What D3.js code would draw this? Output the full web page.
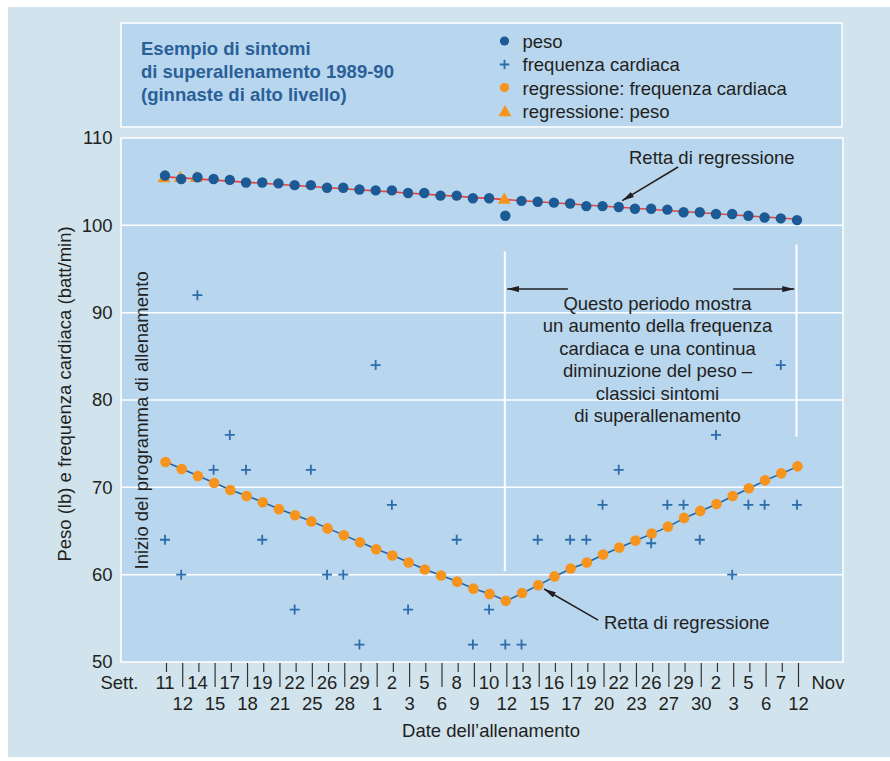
<!DOCTYPE html>
<html lang="it">
    <head>
        <meta charset="utf-8">
        <title>Sintomi di superallenamento 1989-90</title>
        <script src="https://d3js.org/d3.v7.min.js"></script>
        <style type="text/css">
            body { margin: 0; background: #ffffff; }
            text { font-family: "Liberation Sans", Arial, sans-serif; font-size: 18.5px; fill: #231f20; }
            .grid { stroke: #ffffff; stroke-width: 1.5px; }
            .axis line { stroke: #333333; stroke-width: 1.2px; }
        </style>
    </head>
    <body>
        <script type="text/javascript">

            //Declaring constants
            const w = 890;
            const h = 761;
            const plot = {left: 121, top: 138, right: 843, bottom: 662};

            //Data
            const dates = ["11","12","14","15","17","18","19","21","22","25",
                           "26","28","29","1","2","3","5","6","8","9",
                           "10","12","13","15","16","17","19","20","22","23",
                           "26","27","29","30","2","3","5","6","7","12"];

            //peso (lb)
            const peso = [105.7, 105.3, 105.5, 105.3, 105.2, 104.9, 104.9, 104.8, 104.6, 104.6,
                          104.3, 104.3, 104.1, 104.0, 104.0, 103.7, 103.7, 103.4, 103.4, 103.1,
                          103.1, 101.1, 102.8, 102.7, 102.6, 102.5, 102.2, 102.2, 102.1, 101.9,
                          101.9, 101.8, 101.5, 101.5, 101.3, 101.3, 101.1, 100.9, 100.8, 100.6];

            //frequenza cardiaca (batt/min)
            const freq = [64, 60, 92, 72, 76, 72, 64, null, 56, 72,
                          60, 60, 52, 84, 68, 56, null, null, 64, 52,
                          56, 52, 52, 64, null, 64, 64, 68, 72, null,
                          63.6, 68, 68, 64, 76, 60, 68, 68, 84, 68];

            //regressione: frequenza cardiaca
            const regFreq = [72.9, 72.1, 71.3, 70.5, 69.7, 69.0, 68.3, 67.5, 66.8, 66.1,
                             65.3, 64.5, 63.7, 62.9, 62.2, 61.4, 60.6, 59.9, 59.2, 58.4,
                             57.8, 57.0, 57.9, 58.8, 59.8, 60.7, 61.4, 62.3, 63.1, 63.9,
                             64.7, 65.5, 66.5, 67.3, 68.1, 69.0, 69.9, 70.8, 71.6, 72.4];

            //regressione: peso (visible triangles + line ends)
            const regPesoIdx = [0, 1, 2, 21];
            const regPesoVal = [105.35, 105.4, 105.4, 102.9];
            const regPesoLine = [[0, 105.55], [39, 100.7]];

            const yTicks = [50, 60, 70, 80, 90, 100, 110];
            const gridValues = [60, 70, 80, 90, 100];

            //colours
            const darkBlue = "#1b5a94";
            const orange = "#f7941d";
            const plusBlue = "#2c6dab";

            //scales
            const xScale = d3.scaleLinear()
                             .domain([0, 39])
                             .range([166, 798]);

            const yScale = d3.scaleLinear()
                             .domain([50, 110])
                             .range([plot.bottom, plot.top]);

            //SVG
            const svg = d3.select("body")
                    .append("svg")
                    .attr("width", w)
                    .attr("height", h);

            svg.append("defs").append("marker")
                .attr("id", "head")
                .attr("viewBox", "0 0 12 6")
                .attr("markerUnits", "userSpaceOnUse")
                .attr("markerWidth", 12)
                .attr("markerHeight", 6)
                .attr("refX", 12)
                .attr("refY", 3)
                .attr("orient", "auto")
                .append("path")
                .attr("d", "M0,0L12,3L0,6Z")
                .attr("fill", "#231f20");

            //outer panel
            svg.append("rect")
                .attr("x", 8).attr("y", 7)
                .attr("width", w - 8).attr("height", 750)
                .attr("fill", "#d1e3ed");

            //legend box
            svg.append("rect")
                .attr("x", 121).attr("y", 23)
                .attr("width", 721).attr("height", 104)
                .attr("fill", "#b8d6ee")
                .attr("stroke", "#ffffff")
                .attr("stroke-width", 1.5);

            const titleLines = ["Esempio di sintomi", "di superallenamento 1989-90", "(ginnaste di alto livello)"];
            svg.append("g").selectAll("text")
                .data(titleLines)
                .join("text")
                .attr("x", 141)
                .attr("y", (d, i) => 55 + i * 23.2)
                .style("font-weight", "bold")
                .style("fill", "#2a5f98")
                .text(d => d);

            const legendItems = ["peso", "frequenza cardiaca", "regressione: frequenza cardiaca", "regressione: peso"];
            const legend = svg.append("g");
            legend.selectAll("text")
                .data(legendItems)
                .join("text")
                .attr("x", 522.5)
                .attr("y", (d, i) => 47.7 + i * 23.5)
                .text(d => d);

            const lgY = i => 41 + i * 23.5;
            legend.append("circle").attr("cx", 504.5).attr("cy", lgY(0)).attr("r", 4.6).attr("fill", darkBlue);
            legend.append("path").attr("transform", `translate(504.5,${lgY(1)})`)
                .attr("d", "M-4.7,0H4.7M0,-4.7V4.7").attr("stroke", plusBlue).attr("stroke-width", 1.8);
            legend.append("circle").attr("cx", 504.5).attr("cy", lgY(2) - 0.5).attr("r", 4.6).attr("fill", orange);
            legend.append("path").attr("transform", `translate(505,${lgY(3) + 1})`)
                .attr("d", d3.symbol(d3.symbolTriangle, 72)()).attr("fill", orange);

            //plot area
            svg.append("rect")
                .attr("x", plot.left).attr("y", plot.top)
                .attr("width", plot.right - plot.left).attr("height", plot.bottom - plot.top)
                .attr("fill", "#b8d6ee")
                .attr("stroke", "#ffffff")
                .attr("stroke-width", 1.5);

            //gridlines
            svg.append("g").selectAll("line")
                .data(gridValues)
                .join("line")
                .attr("class", "grid")
                .attr("x1", plot.left).attr("x2", plot.right)
                .attr("y1", d => yScale(d)).attr("y2", d => yScale(d));

            //white period markers
            const periodLines = [[21, 97.0, 60.4], [39, 97.8, 75.8]];
            svg.append("g").selectAll("line")
                .data(periodLines)
                .join("line")
                .attr("x1", d => xScale(d[0]) - 1.5).attr("x2", d => xScale(d[0]) - 1.5)
                .attr("y1", d => yScale(d[1])).attr("y2", d => yScale(d[2]))
                .attr("stroke", "#ffffff")
                .attr("stroke-width", 2);

            //left axis
            const leftAxis = d3.axisLeft(yScale)
                               .tickValues(yTicks)
                               .tickSize(0)
                               .tickPadding(8.5);

            const gy = svg.append("g")
                .attr("transform", "translate(" + plot.left + ",0)")
                .call(leftAxis);
            gy.select(".domain").remove();
            gy.selectAll("text").attr("font-size", null).attr("font-family", null).attr("fill", null);

            //bottom axis with alternating tick lengths
            const bottomAxis = d3.axisBottom(xScale)
                                 .tickValues(d3.range(dates.length))
                                 .tickSize(9)
                                 .tickFormat(i => dates[i]);

            const gx = svg.append("g")
                .attr("class", "axis")
                .attr("transform", "translate(0," + (plot.bottom + 1) + ")")
                .call(bottomAxis);
            gx.select(".domain").remove();
            gx.selectAll(".tick line").attr("y2", i => i % 2 ? 24 : 9).attr("stroke", null);
            gx.selectAll(".tick text")
                .attr("font-size", null).attr("font-family", null).attr("fill", null)
                .attr("dy", null)
                .attr("x", i => i % 2 ? 0 : -1.5)
                .attr("y", i => i % 2 ? 46.5 : 25.8);

            svg.append("text")
                .attr("x", xScale(0) - 27.5)
                .attr("y", plot.bottom + 26.8)
                .attr("text-anchor", "end")
                .text("Sett.");

            svg.append("text")
                .attr("x", xScale(39) + 13.5)
                .attr("y", plot.bottom + 26.8)
                .text("Nov");

            //regression lines
            const line = d3.line()
                           .x(d => xScale(d[0]))
                           .y(d => yScale(d[1]));

            svg.append("path")
                .attr("d", line(regPesoLine))
                .attr("fill", "none")
                .attr("stroke", "#e8413c")
                .attr("stroke-width", 1.6);

            svg.append("g").selectAll("path")
                .data(regPesoIdx)
                .join("path")
                .attr("transform", (d, i) => `translate(${xScale(d) - 2},${yScale(regPesoVal[i])})`)
                .attr("d", d3.symbol(d3.symbolTriangle, 72)())
                .attr("fill", orange);

            svg.append("path")
                .attr("d", line(regFreq.map((v, i) => [i, v])))
                .attr("fill", "none")
                .attr("stroke", "#2266a8")
                .attr("stroke-width", 1.6);

            //peso dots
            svg.append("g").selectAll("circle")
                .data(peso)
                .join("circle")
                .attr("cx", (d, i) => xScale(i) - 1)
                .attr("cy", d => yScale(d))
                .attr("r", 5.2)
                .attr("fill", darkBlue);

            //regression heart rate dots
            svg.append("g").selectAll("circle")
                .data(regFreq)
                .join("circle")
                .attr("cx", (d, i) => xScale(i) - 0.5)
                .attr("cy", d => yScale(d))
                .attr("r", 5.3)
                .attr("fill", orange);

            //heart rate pluses
            svg.append("g").selectAll("path")
                .data(freq.map((v, i) => [i, v]).filter(d => d[1] !== null))
                .join("path")
                .attr("transform", d => `translate(${xScale(d[0]) - 1},${yScale(d[1])})`)
                .attr("d", "M-5,0H5M0,-5V5")
                .attr("stroke", plusBlue)
                .attr("stroke-width", 1.8);

            //annotations
            const arrow = (from, to) => svg.append("line")
                .attr("x1", xScale(from[0])).attr("y1", yScale(from[1]))
                .attr("x2", xScale(to[0])).attr("y2", yScale(to[1]))
                .attr("stroke", "#231f20")
                .attr("stroke-width", 1.5)
                .attr("marker-end", "url(#head)");

            arrow([31.6, 106.68], [28.15, 102.82]);
            arrow([26.67, 54.8], [23.33, 58.36]);
            arrow([24.8, 92.7], [21.05, 92.7]);
            arrow([35.0, 92.7], [38.77, 92.7]);

            svg.append("text")
                .attr("x", 629).attr("y", 164)
                .text("Retta di regressione");

            svg.append("text")
                .attr("x", 604).attr("y", 629)
                .text("Retta di regressione");

            const note = ["Questo periodo mostra", "un aumento della frequenza", "cardiaca e una continua",
                          "diminuzione del peso \u2013", "classici sintomi", "di superallenamento"];
            svg.append("g").selectAll("text")
                .data(note)
                .join("text")
                .attr("x", 657.5)
                .attr("y", (d, i) => 309.5 + i * 22.5)
                .attr("text-anchor", "middle")
                .text(d => d);

            //axis titles
            svg.append("text")
                .attr("transform", "translate(71,394) rotate(-90)")
                .attr("text-anchor", "middle")
                .text("Peso (lb) e frequenza cardiaca (batt/min)");

            svg.append("text")
                .attr("transform", "translate(148,569.5) rotate(-90)")
                .text("Inizio del programma di allenamento");

            svg.append("text")
                .attr("x", 491)
                .attr("y", 736.7)
                .attr("text-anchor", "middle")
                .text("Date dell\u2019allenamento");

        </script>
    </body>
</html>
